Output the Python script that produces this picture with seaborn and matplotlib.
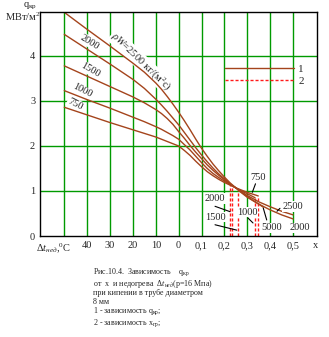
import matplotlib
matplotlib.use("Agg")
import matplotlib.pyplot as plt
import seaborn as sns
import pandas as pd
from matplotlib.lines import Line2D

sns.set_theme(style="white")
plt.rcParams["font.family"] = ["Liberation Serif", "DejaVu Serif"]
plt.rcParams["mathtext.fontset"] = "custom"
plt.rcParams["mathtext.rm"] = "Liberation Serif"
plt.rcParams["mathtext.it"] = "Liberation Serif:italic"

# ---------------- data (x < 0 : subcooling dt/100, x > 0 : quality) ----------------
x_2500 = [-0.5, -0.4, -0.3, -0.2, -0.15, -0.1, -0.075, -0.05, -0.025, 0.0, 0.025, 0.05, 0.075,
          0.1, 0.125, 0.15, 0.175, 0.2, 0.225, 0.25, 0.275, 0.3, 0.35, 0.4, 0.45, 0.5]
q_2500 = [4.97, 4.59, 4.22, 3.84, 3.64, 3.40, 3.26, 3.10, 2.93, 2.75, 2.56, 2.36, 2.15,
          1.95, 1.77, 1.60, 1.45, 1.31, 1.18, 1.07, 0.98, 0.90, 0.76, 0.65, 0.55, 0.47]

x_2000 = [-0.5, -0.4, -0.3, -0.2, -0.15, -0.1, -0.075, -0.05, -0.025, 0.0, 0.025, 0.05, 0.075,
          0.1, 0.125, 0.15, 0.175, 0.2, 0.225, 0.25, 0.275, 0.3, 0.35, 0.4, 0.45, 0.5]
q_2000 = [4.48, 4.15, 3.82, 3.48, 3.28, 3.04, 2.91, 2.77, 2.62, 2.47, 2.30, 2.13, 1.96,
          1.80, 1.65, 1.51, 1.38, 1.27, 1.16, 1.07, 0.96, 0.86, 0.71, 0.58, 0.47, 0.38]

x_1500 = [-0.5, -0.4, -0.3, -0.2, -0.15, -0.1, -0.075, -0.05, -0.025, 0.0, 0.025, 0.05, 0.075,
          0.1, 0.125, 0.15, 0.175, 0.2, 0.225, 0.25, 0.275, 0.3, 0.325, 0.35, 0.37]
q_1500 = [3.78, 3.55, 3.32, 3.09, 2.96, 2.81, 2.72, 2.61, 2.48, 2.32, 2.17, 2.01, 1.86,
          1.72, 1.58, 1.46, 1.35, 1.25, 1.15, 1.07, 0.97, 0.88, 0.79, 0.71, 0.64]

x_1000 = [-0.5, -0.4, -0.3, -0.2, -0.15, -0.1, -0.075, -0.05, -0.025, 0.0, 0.025, 0.05, 0.075,
          0.1, 0.125, 0.15, 0.175, 0.2, 0.225, 0.25, 0.275, 0.3, 0.334]
q_1000 = [3.23, 3.03, 2.84, 2.64, 2.54, 2.43, 2.37, 2.30, 2.23, 2.15, 2.03, 1.91, 1.77,
          1.63, 1.50, 1.39, 1.30, 1.22, 1.14, 1.07, 1.00, 0.94, 0.85]

x_750 = [-0.5, -0.4, -0.3, -0.2, -0.15, -0.1, -0.075, -0.05, -0.025, 0.0, 0.025, 0.05, 0.075,
         0.1, 0.125, 0.15, 0.175, 0.2, 0.225, 0.25, 0.275, 0.3, 0.348]
q_750 = [2.86, 2.69, 2.52, 2.36, 2.28, 2.20, 2.15, 2.10, 2.05, 2.00, 1.90, 1.79, 1.66,
         1.54, 1.43, 1.34, 1.26, 1.19, 1.13, 1.07, 1.02, 0.97, 0.89]

# boundary quality x_gr (curve 2) for each mass flux
flux_gr = [2000, 2500, 1500, 1000, 750]
x_gr = [0.223, 0.232, 0.261, 0.334, 0.348]
q_gr = [1.14, 1.12, 1.04, 0.85, 0.89]

grid_x = [-0.5, -0.4, -0.3, -0.2, -0.1, 0.0, 0.1, 0.2, 0.3, 0.4, 0.5]
grid_y = [1, 2, 3, 4]
tick_pos = [-0.545, -0.4, -0.3, -0.2, -0.1, 0.0, 0.1, 0.2, 0.3, 0.4, 0.5, 0.6]
tick_lab = ["Δ$\\mathit{t}_{нед}$,$^0$C", "40", "30", "20", "10", "0",
            "0,1", "0,2", "0,3", "0,4", "0,5", "x"]
y_ticks = [0, 1, 2, 3, 4]

BROWN = "#a4441c"
GREEN = "#009a00"
RED = "#ff1a1a"

frames = []
for flux, xs, qs in [(2500, x_2500, q_2500), (2000, x_2000, q_2000), (1500, x_1500, q_1500),
                     (1000, x_1000, q_1000), (750, x_750, q_750)]:
    frames.append(pd.DataFrame({"x": xs, "q": qs, "flux": flux}))
df = pd.concat(frames, ignore_index=True)

fig = plt.figure(figsize=(3.29, 3.37), dpi=100)
ax = fig.add_axes([40 / 329, 1 - 236 / 337, 276.7 / 329, 224.3 / 337])
ax.set_xlim(-0.6063, 0.6036)
ax.set_ylim(0, 4.984)

for gx in grid_x:
    ax.axvline(gx, color=GREEN, lw=1.0, zorder=1)
for gy in grid_y:
    ax.axhline(gy, color=GREEN, lw=1.0, zorder=1)

sns.lineplot(data=df, x="x", y="q", hue="flux", palette=[BROWN] * 5, sort=False,
             estimator=None, legend=False, lw=1.0, ax=ax, zorder=4)

ax.vlines(x_gr, 0, q_gr, colors=RED, linestyles=(0, (2.2, 1.4)), lw=1.0, zorder=3)

ax.set_xticks(tick_pos)
ax.set_xticklabels(tick_lab, fontsize=7.5)
ax.set_yticks(y_ticks)
ax.set_yticklabels([str(v) for v in y_ticks], fontsize=7.5)
ax.tick_params(length=0, pad=3.5)
ax.set_xlabel("")
ax.set_ylabel("")
for s in ax.spines.values():
    s.set_color("black")
    s.set_linewidth(1.0)
    s.set_zorder(6)

box = dict(facecolor="white", edgecolor="none", pad=0.6)
fs = 7.5
ax.text(-0.389, 4.31, "2000", rotation=-32, ha="center", va="center", fontsize=fs, bbox=box, zorder=3)
ax.text(-0.386, 3.69, "1500", rotation=-30, ha="center", va="center", fontsize=fs, bbox=box, zorder=3)
ax.text(-0.423, 3.23, "1000", rotation=-27, ha="center", va="center", fontsize=fs, bbox=box, zorder=3)
ax.text(-0.452, 2.93, "750", rotation=-27, ha="center", va="center", fontsize=fs, bbox=box, zorder=3)
ax.text(-0.165, 3.87, "$\\rho W$=2500 кг/(м$^2$с)", rotation=-44, ha="center", va="center",
        fontsize=fs, bbox=box, zorder=3)

lab_kw = dict(ha="center", va="center", fontsize=fs, bbox=box, zorder=5)
ax.text(0.347, 1.30, "750", **lab_kw)
ax.text(0.500, 0.65, "2500", **lab_kw)
ax.text(0.408, 0.18, "5000", **lab_kw)
ax.text(0.531, 0.18, "2000", **lab_kw)
ax.text(0.159, 0.84, "2000", **lab_kw)
ax.text(0.159, 0.42, "1500", **lab_kw)
ax.text(0.299, 0.53, "1000", **lab_kw)

lead_kw = dict(color="black", lw=0.8, zorder=5)
ax.plot([0.336, 0.322], [1.16, 0.97], **lead_kw)
ax.plot([0.443, 0.43], [0.615, 0.55], **lead_kw)
ax.plot([0.385, 0.370], [0.356, 0.62], **lead_kw)
ax.plot([0.159, 0.225], [0.66, 0.54], **lead_kw)
ax.plot([0.159, 0.254], [0.25, 0.13], **lead_kw)
ax.plot([0.303, 0.325], [0.40, 0.29], **lead_kw)

handles = [Line2D([], [], color=BROWN, lw=1.0),
           Line2D([], [], color=RED, lw=1.0, ls=(0, (2.2, 1.4)))]
ax.legend(handles, ["1", "2"], loc="upper left", bbox_to_anchor=(0.668, 0.765),
          frameon=False, handlelength=6.2, handletextpad=0.4, labelspacing=0.18,
          borderpad=0, borderaxespad=0, fontsize=8)

fig.text(30 / 329, 1 - 6 / 337, "$\\mathregular{q_{кр}}$", ha="center", va="center", fontsize=7.5)
fig.text(23 / 329, 1 - 17 / 337, "МВт/м$^2$", ha="center", va="center", fontsize=7.5)

cap = ["Рис.10.4.  Зависимость    $\\mathregular{q_{кр}}$",
       "от  x  и недогрева  Δ$\\mathit{t}_{нед}$(p=16 Мпа)",
       "при кипении в трубе диаметром",
       "8 мм",
       "1 - зависимость $\\mathregular{q_{кр}}$;",
       "2 - зависимость $\\mathregular{x_{гр}}$;"]
cap_y = [272.3, 284.2, 293.2, 301.6, 311.4, 322.9]
for t, yy in zip(cap, cap_y):
    fig.text(93 / 329, 1 - yy / 337, t, ha="left", va="center", fontsize=5.8)

fig.savefig("out.png", dpi=100)
